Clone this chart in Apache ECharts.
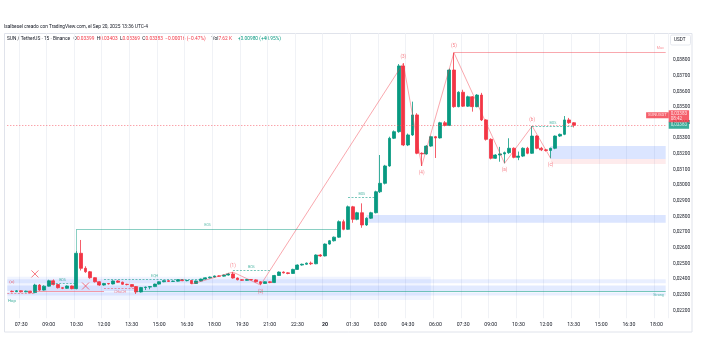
<!DOCTYPE html>
<html><head><meta charset="utf-8">
<script src="https://cdn.jsdelivr.net/npm/echarts@6/dist/echarts.min.js"></script>
<style>html,body{margin:0;padding:0;background:#fff}#c{width:715px;height:341px}</style>
</head><body><div id="c"></div>
<script>
// ---- time slots (15 min) ----
const START_DAY = 19, START_MINUTE = 6 * 60 + 45, SLOT_MIN = 15, SLOT_COUNT = 144, FIRST_CANDLE = 1;
// ---- OHLC (SUN/USDT 15m) ----
const opens = [
.02322,.02320,.02325,.02319,.02323,.02314,.02362,.02330,.02355,.02389,
.02365,.02345,.02341,.02356,.02339,.02565,.02469,.02447,.02409,.02383,
.02362,.02372,.02369,.02388,.02380,.02367,.02365,.02352,.02318,.02346,
.02349,.02352,.02368,.02383,.02390,.02385,.02387,.02396,.02390,.02391,
.02372,.02388,.02400,.02408,.02413,.02420,.02419,.02426,.02433,.02407,
.02396,.02392,.02397,.02395,.02383,.02372,.02383,.02378,.02423,.02445,
.02440,.02436,.02462,.02490,.02495,.02502,.02498,.02554,.02548,.02624,
.02645,.02668,.02767,.02718,.02862,.02782,.02824,.02746,.02789,.02824,
.02958,.03012,.03123,.03300,.03342,.03762,.03257,.03321,.03449,.03204,
.03200,.03250,.03310,.03302,.03399,.03382,.03736,.03502,.03594,.03505,
.03565,.03502,.03576,.03417,.03293,.03172,.03193,.03200,.03208,.03236,
.03178,.03186,.03236,.03204,.03314,.03236,.03226,.03222,.03236,.03314,
.03325,.03417,.03399];
const closes = [
.02320,.02325,.02319,.02323,.02314,.02362,.02330,.02355,.02389,.02365,
.02345,.02341,.02356,.02339,.02565,.02469,.02447,.02409,.02383,.02362,
.02372,.02369,.02388,.02380,.02367,.02365,.02352,.02318,.02346,.02349,
.02352,.02368,.02383,.02390,.02385,.02387,.02396,.02390,.02391,.02372,
.02388,.02400,.02408,.02413,.02420,.02419,.02426,.02433,.02407,.02396,
.02392,.02397,.02395,.02383,.02372,.02383,.02378,.02423,.02445,.02440,
.02436,.02462,.02490,.02495,.02502,.02498,.02554,.02548,.02624,.02645,
.02668,.02767,.02718,.02862,.02782,.02824,.02746,.02789,.02824,.02958,
.03012,.03123,.03300,.03342,.03762,.03257,.03321,.03449,.03204,.03200,
.03250,.03310,.03302,.03399,.03382,.03736,.03502,.03594,.03505,.03565,
.03502,.03576,.03417,.03293,.03172,.03193,.03200,.03208,.03236,.03178,
.03186,.03236,.03204,.03314,.03236,.03226,.03222,.03236,.03314,.03325,
.03417,.03399,.03383];
const lows = [
.02316,.02317,.02315,.02316,.02310,.02310,.02325,.02327,.02352,.02360,
.02340,.02336,.02337,.02335,.02335,.02455,.02440,.02402,.02378,.02357,
.02358,.02365,.02366,.02376,.02363,.02360,.02348,.02305,.02314,.02330,
.02335,.02349,.02365,.02380,.02382,.02382,.02384,.02387,.02386,.02368,
.02369,.02385,.02397,.02404,.02410,.02415,.02416,.02422,.02403,.02392,
.02388,.02389,.02391,.02379,.02362,.02369,.02374,.02375,.02420,.02436,
.02431,.02433,.02459,.02486,.02491,.02490,.02495,.02542,.02545,.02620,
.02640,.02664,.02712,.02714,.02760,.02776,.02728,.02740,.02784,.02820,
.02950,.03005,.03118,.03295,.03335,.03250,.03250,.03315,.03198,.03123,
.03195,.03245,.03174,.03298,.03376,.03378,.03495,.03498,.03500,.03500,
.03470,.03498,.03410,.03285,.03165,.03168,.03150,.03140,.03200,.03172,
.03160,.03180,.03198,.03200,.03230,.03218,.03215,.03172,.03230,.03308,
.03320,.03392,.03369];
const highs = [
.02327,.02329,.02327,.02326,.02325,.02370,.02368,.02360,.02396,.02398,
.02368,.02349,.02360,.02359,.02580,.02650,.02482,.02452,.02412,.02386,
.02376,.02375,.02392,.02393,.02384,.02370,.02368,.02355,.02350,.02352,
.02355,.02371,.02386,.02394,.02394,.02391,.02399,.02399,.02395,.02394,
.02391,.02403,.02411,.02416,.02423,.02424,.02429,.02440,.02445,.02410,
.02400,.02400,.02400,.02399,.02386,.02386,.02387,.02427,.02449,.02449,
.02444,.02466,.02494,.02499,.02506,.02512,.02558,.02560,.02628,.02650,
.02672,.02775,.02780,.02870,.02868,.02830,.02884,.02795,.02830,.02965,
.03193,.03130,.03310,.03350,.03774,.03779,.03330,.03534,.03460,.03210,
.03256,.03316,.03315,.03405,.03410,.03745,.03847,.03600,.03610,.03572,
.03570,.03582,.03590,.03422,.03300,.03198,.03245,.03215,.03300,.03242,
.03215,.03242,.03245,.03378,.03320,.03245,.03232,.03240,.03318,.03330,
.03442,.03430,.03403];
// ---- price axis ----
const Y_MIN = 0.0215, Y_MAX = 0.0397, Y_STEP = 0.0005, Y_LABEL_MIN = 0.022, Y_LABEL_MAX = 0.038;
const LAST_PRICE = 0.03383;
// ---- Elliott wave pivots ----
const waveIdx = [40, 49, 55, 86, 90, 97, 108, 114, 118];
const waveVal = [.02368, .02445, .02362, .03779, .03123, .03847, .03140, .03378, .03172];
const waveTxt = ['', '(1)', '(2)', '(3)', '(4)', '(5)', '(a)', '(b)', '(c)'];
const wavePos = ['top', 'top', 'bottom', 'top', 'bottom', 'top', 'bottom', 'top', 'bottom'];
// ---- zones ----
const boxFrom = [0, 0, 0, 0, 78, 118, 118];
const boxTo = [92, 143, 143, 143, 143, 143, 143];
const boxTop = [.02415, .02399, .02359, .02314, .02810, .03250, .03167];
const boxBot = [.02266, .02373, .02324, .02295, .02760, .03167, .03135];
const boxFill = ['rgba(41,98,255,0.07)', 'rgba(41,98,255,0.10)', 'rgba(41,98,255,0.13)', 'rgba(41,98,255,0.10)', 'rgba(41,98,255,0.17)', 'rgba(41,98,255,0.17)', 'rgba(242,54,69,0.10)'];
// ---- structure lines ----
const dashGFrom = [9, 21, 49, 74, 114];
const dashGTo = [15, 43, 57, 80, 123];
const dashGVal = [.02375, .02400, .02455, .02923, .03378];
const dashGTxt = ['BOS', 'EQH', 'BOS', 'BOS', 'BOS'];
const bosFrom = 15, bosTo = 72, bosVal = .02718, bosBase = .02580;
const strongFrom = 28, strongVal = .02325;
const maxFrom = 97, maxVal = .03851;
const redSolid = [6, 21, .02322], redDash1 = [0, 6, .02311], redDash2 = [21, 28, .02341];
const crossIdx = [6, 17], crossVal = [.02433, .02356];
const noteIdx = [1, 1], noteVal = [.02380, .02262], noteTxt = ['(c)', 'Hop'], noteColor = ['#f23645', '#089981'];

const GREEN = '#089981', RED = '#f23645', FONT = 'Roboto, "Liberation Sans", sans-serif';
const pad = n => (n < 10 ? '0' : '') + n;
const categories = [];
for (let k = 0; k < SLOT_COUNT; k++) {
  const t = START_MINUTE + k * SLOT_MIN;
  const d = START_DAY + Math.floor(t / 1440), m = t % 1440;
  categories.push(d + ' ' + pad(Math.floor(m / 60)) + ':' + pad(m % 60));
}
const LAST = SLOT_COUNT - 1;
const minuteOf = c => { const hm = c.split(' ')[1].split(':'); return (+hm[0]) * 60 + (+hm[1]); };
const showTick = (i) => minuteOf(categories[i]) % 90 === 0;
const fmtPrice = v => v.toFixed(5).replace('.', ',');

const candles = categories.map(() => '-');
opens.forEach((o, j) => { candles[FIRST_CANDLE + j] = [o, closes[j], lows[j], highs[j]]; });

const seg = (x1, x2, v, lineStyle, label) => [
  { coord: [x1, v], lineStyle, label: label || { show: false } }, { coord: [x2, v] }];

const markLines = [];
markLines.push(seg(0, LAST, LAST_PRICE, { color: '#f7525f', type: [1, 2], width: 1, opacity: 0.75 }));
dashGFrom.forEach((f, k) => markLines.push(seg(f, dashGTo[k], dashGVal[k], { color: GREEN, type: [2, 1.5], width: 0.8, opacity: 0.7 },
  { show: true, position: 'middle', distance: 1, formatter: dashGTxt[k], color: GREEN, fontSize: 3.6, fontFamily: FONT })));
markLines.push([{ coord: [bosFrom, bosBase], lineStyle: { color: GREEN, width: 0.8, opacity: 0.6, type: 'solid' }, label: { show: false } }, { coord: [bosFrom, bosVal] }]);
markLines.push(seg(bosFrom, bosTo, bosVal, { color: GREEN, width: 0.8, opacity: 0.6, type: 'solid' },
  { show: true, position: 'middle', distance: 2, formatter: 'BOS', color: GREEN, fontSize: 3.6, fontFamily: FONT }));
markLines.push(seg(strongFrom, LAST, strongVal, { color: GREEN, width: 0.8, opacity: 0.7, type: 'solid' },
  { show: true, position: 'insideEndBottom', distance: 2, formatter: 'Strong', color: GREEN, fontSize: 3.6, fontFamily: FONT }));
markLines.push(seg(maxFrom, LAST, maxVal, { color: RED, width: 0.8, opacity: 0.55, type: 'solid' },
  { show: true, position: 'insideEndTop', distance: 2, formatter: 'Max', color: RED, fontSize: 3.6, fontFamily: FONT }));
markLines.push(seg(redSolid[0], redSolid[1], redSolid[2], { color: RED, width: 0.8, opacity: 0.6, type: 'solid' }));
markLines.push(seg(redDash1[0], redDash1[1], redDash1[2], { color: RED, width: 0.8, type: [2, 1.5], opacity: 0.6 }));
markLines.push(seg(redDash2[0], redDash2[1], redDash2[2], { color: RED, width: 0.8, type: [2, 1.5], opacity: 0.6 },
  { show: true, position: 'middle', distance: -6, formatter: 'CHoCH', color: RED, fontSize: 3.6, fontFamily: FONT }));

const markAreas = boxFrom.map((f, k) => [
  { coord: [f, boxTop[k]], itemStyle: { color: boxFill[k] } }, { coord: [boxTo[k], boxBot[k]] }]);

const tagBase = { fontFamily: FONT, color: '#fff', fontSize: 4.6, padding: [1, 2], show: true };
const chart = echarts.init(document.getElementById('c'));
chart.setOption({
  animation: false,
  backgroundColor: '#ffffff',
  grid: { left: 5, right: 47, top: 33.4, bottom: 22.77, containLabel: false },
  xAxis: {
    type: 'category', data: categories, boundaryGap: true,
    axisLine: { show: false }, axisTick: { show: false },
    axisLabel: { interval: (i) => showTick(i), margin: 4, fontSize: 5.2, color: '#131722', fontFamily: FONT,
      formatter: (v) => { const p = v.split(' '); return p[1] === '00:00' ? '{b|' + p[0] + '}' : p[1]; },
      rich: { b: { fontWeight: 'bold', fontSize: 5.2, color: '#131722', fontFamily: FONT } } },
    splitLine: { show: true, interval: (i) => showTick(i), lineStyle: { color: '#f0f2f6', width: 1 } }
  },
  yAxis: {
    type: 'value', position: 'right', min: Y_MIN, max: Y_MAX, interval: Y_STEP, scale: true,
    axisLine: { show: false }, axisTick: { show: false }, splitLine: { show: false },
    axisLabel: { margin: 5, fontSize: 4.8, color: '#131722', fontFamily: FONT, align: 'left',
      formatter: (v) => { const k = v * 1000; if (Math.abs(k - Math.round(k)) > 1e-6) return ''; if (v < Y_LABEL_MIN - 1e-9 || v > Y_LABEL_MAX + 1e-9) return ''; return fmtPrice(v); } }
  },
  series: [
    { type: 'candlestick', data: candles, barWidth: 3.3,
      itemStyle: { color: GREEN, color0: RED, borderColor: GREEN, borderColor0: RED, borderWidth: 0.8 },
      markLine: { symbol: 'none', silent: true, animation: false, data: markLines },
      markArea: { silent: true, data: markAreas } },
    { type: 'line', symbol: 'none', z: 3,
      lineStyle: { color: RED, width: 0.8, opacity: 0.55 },
      data: waveIdx.map((x, k) => [x, waveVal[k]]) },
    { type: 'scatter', symbolSize: 0, z: 5, silent: true,
      data: waveIdx.map((x, k) => ({ value: [x, waveVal[k]],
        label: { show: true, position: wavePos[k], distance: 4, formatter: waveTxt[k], color: 'rgba(242,54,69,0.8)', fontSize: 4.6, fontFamily: FONT } })) },
    { type: 'scatter', data: crossIdx.map((x, k) => [x, crossVal[k]]), symbol: 'path://M0,0L10,10M10,0L0,10', symbolSize: 7,
      itemStyle: { color: 'rgba(0,0,0,0)', borderColor: RED, borderWidth: 0.9, opacity: 0.75 }, z: 4 },
    { type: 'scatter', symbolSize: 0, z: 4, silent: true,
      data: noteIdx.map((x, k) => ({ value: [x, noteVal[k]], label: { show: true, position: 'inside', formatter: noteTxt[k], color: noteColor[k], fontSize: 4.2, fontFamily: FONT } })) },
    { type: 'scatter', symbolSize: 0, z: 10, silent: true, clip: false,
      data: [
        { value: [LAST, LAST_PRICE], label: Object.assign({}, tagBase, { position: 'right', distance: 3, formatter: fmtPrice(LAST_PRICE), backgroundColor: GREEN }) },
        { value: [LAST, LAST_PRICE], label: Object.assign({}, tagBase, { position: 'right', distance: 3, offset: [0, -9], lineHeight: 5, formatter: fmtPrice(LAST_PRICE) + '\n08:42', backgroundColor: RED }) },
        { value: [LAST, LAST_PRICE], label: Object.assign({}, tagBase, { position: 'left', distance: -3, offset: [0, -10], fontSize: 4.2, formatter: 'SUNUSDT', backgroundColor: RED }) }
      ] }
  ],
  graphic: [
    { type: 'rect', silent: true, z: -10, shape: { x: 4.5, y: 33.5, width: 687.5, height: 298.5 }, style: { fill: 'none', stroke: '#e0e3eb', lineWidth: 1 } },
    { type: 'text', left: 4, top: 24, style: { text: 'lsalbesel creado con TradingView.com, el Sep 20, 2025 13:36 UTC-4', fontSize: 4.8, fill: '#131722', fontFamily: FONT } },
    { type: 'text', left: 7, top: 36, style: {
      text: '{d|SUN / TetherUS · 15 · Binance   O}{r|0.03399}{d|  H}{r|0.03403}{d|  L}{r|0.03369}{d|  C}{r|0.03383}{r|  −0.00016 (−0.47%)}{d|     Vol}{r|7.62 K}{g|     +0.00980 (+40.95%)}',
      rich: { d: { fontSize: 4.8, fill: '#131722', fontFamily: FONT }, r: { fontSize: 4.8, fill: RED, fontFamily: FONT }, g: { fontSize: 4.8, fill: GREEN, fontFamily: FONT } } } },
    { type: 'rect', silent: true, shape: { x: 670.5, y: 35, width: 20, height: 10, r: 1.5 }, style: { fill: '#fff', stroke: '#e0e3eb', lineWidth: 0.8 } },
    { type: 'text', left: 674, top: 37.5, style: { text: 'USDT', fontSize: 4.6, fill: '#131722', fontFamily: FONT } }
  ]
});
</script></body></html>
